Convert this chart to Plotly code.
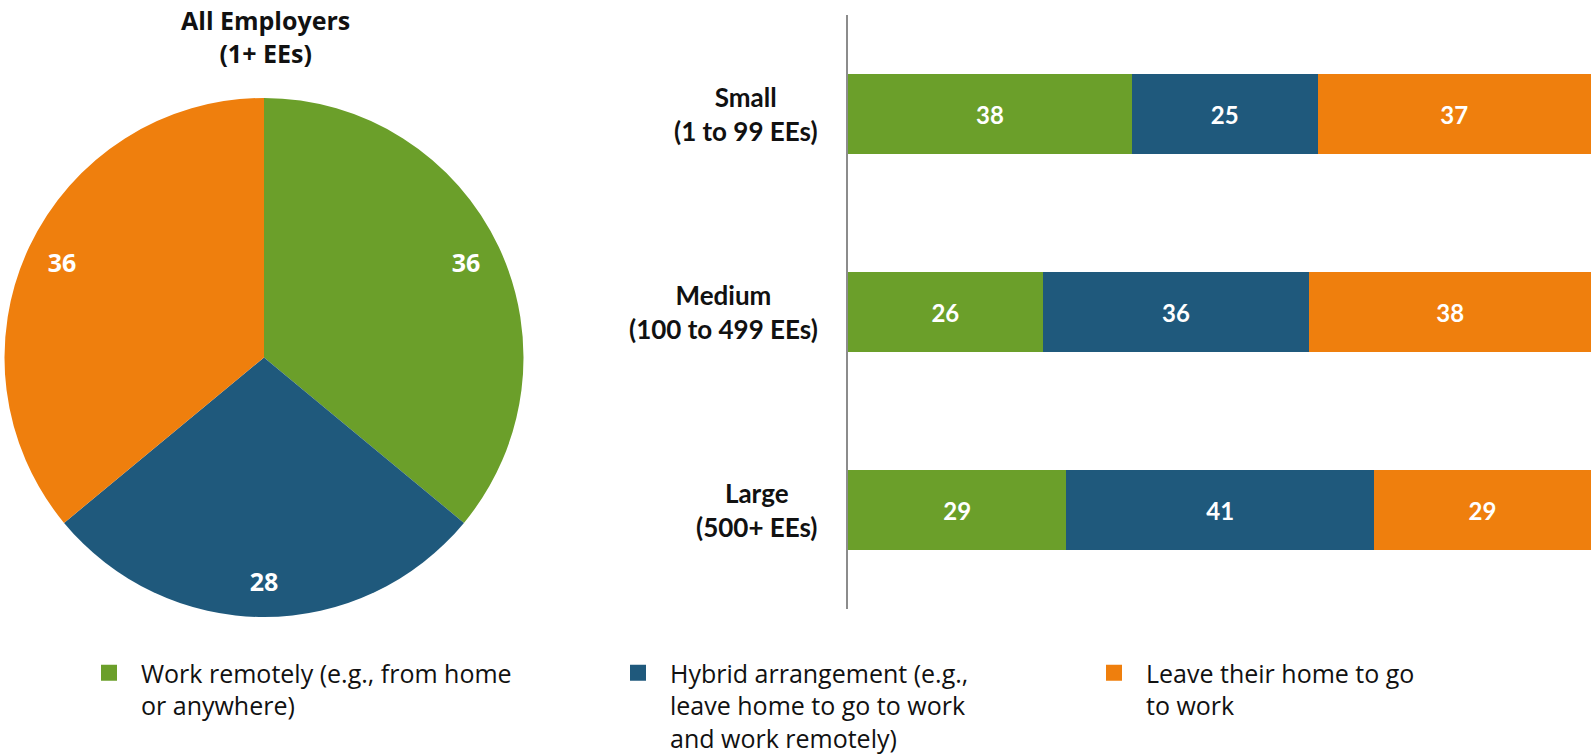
import plotly.graph_objects as go

# data
arrangements = ["Work remotely (e.g., from home<br>or anywhere)",
                "Hybrid arrangement (e.g.,<br>leave home to go to work<br>and work remotely)",
                "Leave their home to go<br>to work"]
colors = ["#6B9F2A", "#1F597C", "#EF7F0D"]

all_employers = [36, 28, 36]

sizes = ["Small<br>(1 to 99 EEs)", "Medium<br>(100 to 499 EEs)", "Large<br>(500+ EEs)"]
# shares (%); labels show rounded values
remote = [38.2, 26.2, 29.4]
hybrid = [25.0, 35.9, 41.4]
onsite = [36.8, 37.9, 29.2]

FONT = "Lato"
WIDE = "Open Sans"
pie_dom = dict(x=[4 / 1591, 524 / 1591], y=[1 - 617 / 756, 1 - 98 / 756])

fig = go.Figure()

# pie body
fig.add_trace(go.Pie(
    values=all_employers, labels=arrangements, sort=False, direction="clockwise",
    rotation=0, marker=dict(colors=colors, line=dict(width=0)),
    textinfo="none", domain=pie_dom, showlegend=False, hoverinfo="skip"))
# transparent ring to carry labels near the rim
fig.add_trace(go.Pie(
    values=all_employers, labels=arrangements, sort=False, direction="clockwise",
    rotation=0, hole=0.72, marker=dict(colors=["rgba(0,0,0,0)"] * 3, line=dict(width=0)),
    texttemplate="%{value}", textposition="inside", insidetextorientation="horizontal",
    textfont=dict(family=WIDE, size=25, color="white", weight="bold"),
    domain=pie_dom, showlegend=False, hoverinfo="skip"))

for name, vals, col in zip(arrangements, [remote, hybrid, onsite], colors):
    fig.add_trace(go.Bar(
        y=sizes, x=vals, orientation="h", name=name, marker=dict(color=col, line=dict(width=0)),
        texttemplate="%{x:.0f}", textposition="inside", insidetextanchor="middle",
        textfont=dict(family=FONT, size=24, color="white", weight="bold"),
        showlegend=False, hoverinfo="skip"))

# legend entries
for i, (name, col) in enumerate(zip(arrangements, colors)):
    fig.add_trace(go.Scatter(
        x=[None], y=[None], mode="markers", name=name,
        marker=dict(symbol="square", size=16, color=col),
        legend="legend" if i == 0 else f"legend{i + 1}"))

leg = dict(orientation="v", yanchor="top", y=1 - 650 / 756, xanchor="left",
           font=dict(family=WIDE, size=25, color="#111111"), valign="top", itemwidth=54,
           bgcolor="rgba(0,0,0,0)", itemclick=False, itemdoubleclick=False)

# centred category labels left of the axis
cat_labels = [dict(text=f"<b>{s}</b>", x=820 / 1591, y=s, xref="paper", yref="y",
                   xanchor="right", yanchor="middle", align="center", showarrow=False,
                   font=dict(family=FONT, size=26, color="#111111")) for s in sizes]

fig.update_layout(
    width=1591, height=756,
    margin=dict(l=0, r=0, t=0, b=0, autoexpand=False),
    paper_bgcolor="white", plot_bgcolor="white",
    barmode="stack", bargap=0.6,
    font=dict(family=FONT, color="#111111"),
    xaxis=dict(domain=[848 / 1591, 1], range=[0, 100], visible=False, fixedrange=True),
    yaxis=dict(domain=[1 - 609 / 756, 1 - 15 / 756], autorange="reversed",
               showline=True, linecolor="#8C8C8C", linewidth=2, showticklabels=False,
               showgrid=False, zeroline=False, fixedrange=True),
    legend=dict(leg, x=77 / 1591),
    legend2=dict(leg, x=606 / 1591),
    legend3=dict(leg, x=1082 / 1591),
    annotations=[dict(text="<b>All Employers<br>(1+ EEs)</b>", x=265 / 1591, y=1 - 1 / 756,
                      xref="paper", yref="paper", xanchor="center", yanchor="top",
                      showarrow=False, font=dict(family=WIDE, size=25, color="#111111"))]
                + cat_labels,
)

fig.write_html("out.html", config={"displayModeBar": False},
               post_script="document.body.style.margin='0';")
